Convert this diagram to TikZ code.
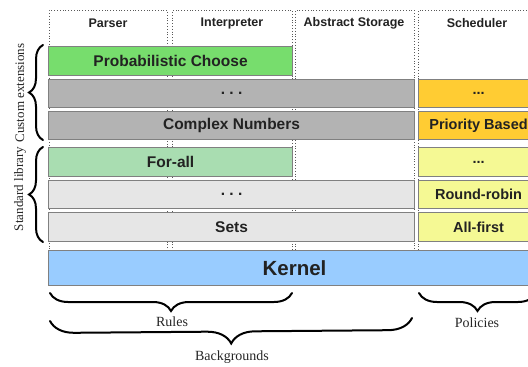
\documentclass[tikz,border=0pt]{standalone}
\usepackage{fontspec}
\setmainfont{Liberation Serif}
\newfontfamily\hsans{Liberation Sans}
\usetikzlibrary{decorations.pathreplacing}

\definecolor{txt}{HTML}{222222}
\definecolor{edge}{HTML}{808080}
\definecolor{extgreen}{HTML}{77DD6D}
\definecolor{extgray}{HTML}{B3B3B3}
\definecolor{extorange}{HTML}{FFCC33}
\definecolor{libgreen}{HTML}{A9DDB1}
\definecolor{libgray}{HTML}{E6E6E6}
\definecolor{libyellow}{HTML}{F5F994}
\definecolor{kernelblue}{HTML}{99CCFF}

\tikzset{
  column/.style={draw=black!65, dotted, line width=0.8pt, anchor=north west,
    inner sep=0pt},
  header/.style={font=\hsans\bfseries\fontsize{12.5}{15}\selectfont, text=txt},
  layer/.style={draw=edge, line width=1.1pt, anchor=north west, inner sep=0pt,
    font=\hsans\bfseries\fontsize{15.5}{18}\selectfont, text=txt},
  policy/.style={layer, minimum width=120pt,
    font=\hsans\bfseries\fontsize{14.5}{17}\selectfont},
  curly/.style={decorate, line width=2pt, line cap=round,
    decoration={brace, amplitude=#1}},
  tag/.style={font=\fontsize{14}{16}\selectfont, text=black!85},
  sidetag/.style={font=\fontsize{13}{15}\selectfont, text=black!85, rotate=90},
}

\begin{document}
\begin{tikzpicture}[x=1pt, y=-1pt]
  \clip (0,0) rectangle (528,367);
  \fill[white] (0,0) rectangle (528,367);

  % component columns
  \node[column, minimum width=118pt, minimum height=240pt] (colP) at (49,10) {};
  \node[column, minimum width=120pt, minimum height=240pt] (colI) at (172,10) {};
  \node[column, minimum width=119pt, minimum height=240pt] (colA) at (295,10) {};
  \node[column, minimum width=119pt, minimum height=240pt] (colS) at (418,10) {};

  \node[header] (hP) at (108,23) {Parser};
  \node[header] (hI) at (232,23) {Interpreter};
  \node[header] (hA) at (354,23) {Abstract Storage};
  \node[header] (hS) at (477,23) {Scheduler};

  % custom extensions
  \node[layer, fill=extgreen, minimum width=244pt, minimum height=29pt] (pc) at (48,46) {Probabilistic Choose};
  \node[layer, fill=extgray, minimum width=366pt, minimum height=28pt] (ed) at (48,79) {.\ .\ .};
  \node[layer, fill=extgray, minimum width=366pt, minimum height=28pt] (cn) at (48,111) {Complex Numbers};
  \node[policy, fill=extorange, minimum height=28pt] (sd) at (418,79) {...};
  \node[policy, fill=extorange, minimum height=28pt] (pb) at (418,111) {Priority Based};

  % standard library
  \node[layer, fill=libgreen, minimum width=244pt, minimum height=29pt] (fa) at (48,147) {For-all};
  \node[layer, fill=libgray, minimum width=366pt, minimum height=28pt] (ld) at (48,180) {.\ .\ .};
  \node[layer, fill=libgray, minimum width=366pt, minimum height=29pt] (st) at (48,212) {Sets};
  \node[policy, fill=libyellow, minimum height=29pt] (yd) at (418,147) {...};
  \node[policy, fill=libyellow, minimum height=28pt] (rr) at (418,180) {Round-robin};
  \node[policy, fill=libyellow, minimum height=29pt] (af) at (418,212) {All-first};

  % kernel
  \node[layer, fill=kernelblue, minimum width=492pt, minimum height=35pt,
        font=\hsans\bfseries\fontsize{20.5}{24}\selectfont] (kr) at (48,250) {Kernel};

  % left braces
  \coordinate (ceTop) at (43,45);
  \coordinate (ceBot) at (43,140);
  \coordinate (slTop) at (43,147);
  \coordinate (slBot) at (43,242);
  \draw[curly=14pt] (ceBot) -- (ceTop);
  \draw[curly=14pt] (slBot) -- (slTop);
  \node[sidetag] (ce) at (20,93) {Custom extensions};
  \node[sidetag] (sl) at (20,189) {Standard library};

  % bottom braces
  \coordinate (rA) at (50,293);
  \coordinate (rB) at (292,293);
  \draw[curly=18pt] (rB) -- (rA);
  \node[tag] (rules) at (172,322) {Rules};

  \coordinate (bA) at (50,321);
  \coordinate (bB) at (412,318);
  \draw[curly=24pt] (bB) -- (bA);
  \node[tag] (bg) at (232,357) {Backgrounds};

  \coordinate (pA) at (419,293);
  \coordinate (pB) at (536,293);
  \draw[curly=18pt] (pB) -- (pA);
  \node[tag] (pol) at (477,323) {Policies};
\end{tikzpicture}
\end{document}
